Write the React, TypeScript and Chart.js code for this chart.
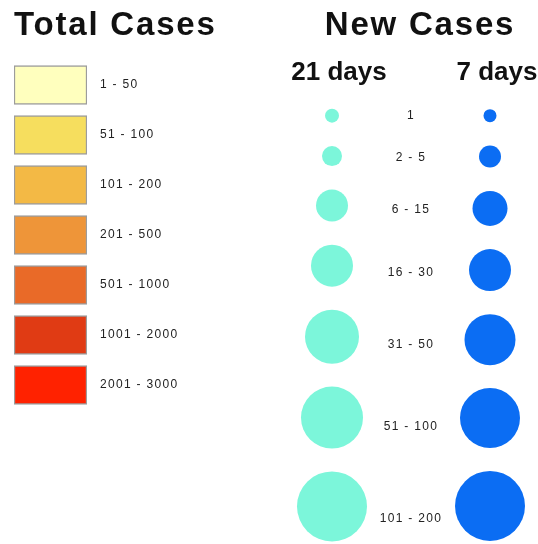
import React, { useEffect, useRef } from "react";
import { Chart, registerables } from "chart.js";

Chart.register(...registerables);

// ---- data ----
const totalTitle = "Total Cases";
const totalRanges = ["1 - 50", "51 - 100", "101 - 200", "201 - 500", "501 - 1000", "1001 - 2000", "2001 - 3000"];
const totalColors = ["#FFFFBE", "#F6DE5E", "#F3B945", "#EE9539", "#E96A28", "#E03B14", "#FF2200"];

const newTitle = "New Cases";
const periods = ["21 days", "7 days"];
const newRanges = ["1", "2 - 5", "6 - 15", "16 - 30", "31 - 50", "51 - 100", "101 - 200"];
const radii21 = [7, 10, 16, 21, 27, 31, 35];
const radii7 = [6.5, 11, 17.5, 21, 25.5, 30, 35];

// ---- styling / layout ----
const FAMILY = '"Liberation Sans", Arial, sans-serif';
const ROW_GAP = 24;
const CYAN = "#7CF6DA";
const BLUE = "#0B6DF3";
const LABEL_SPACING = "1.3px";

function stackRows(radii: number[], gap: number): number[] {
  const out: number[] = [0];
  for (let i = 1; i < radii.length; i++) {
    out.push(out[i - 1] + radii[i - 1] + radii[i] + gap);
  }
  return out;
}

function headingPlugin(text: string, align: CanvasTextAlign, x: number, tickSpacing: string) {
  return {
    id: "heading",
    beforeDraw(chart: any) {
      (chart.ctx as any).letterSpacing = tickSpacing;
    },
    afterDraw(chart: any) {
      const ctx = chart.ctx as any;
      ctx.letterSpacing = "0px";
      ctx.save();
      ctx.letterSpacing = "1.8px";
      ctx.font = `bold 33px ${FAMILY}`;
      ctx.fillStyle = "#111";
      ctx.textAlign = align;
      ctx.textBaseline = "alphabetic";
      ctx.fillText(text, x, 35);
      ctx.restore();
      ctx.letterSpacing = "0px";
    },
  };
}

export default function App() {
  const leftRef = useRef<HTMLCanvasElement>(null);
  const rightRef = useRef<HTMLCanvasElement>(null);

  useEffect(() => {
    const left = new Chart(leftRef.current!, {
      type: "bar",
      data: {
        labels: totalRanges,
        datasets: [
          {
            data: totalRanges.map(() => [0, 1]) as any,
            backgroundColor: totalColors,
            borderColor: "#9c9c9c",
            borderWidth: 1.5,
            borderSkipped: false,
            barThickness: 39,
          },
        ],
      },
      options: {
        indexAxis: "y",
        animation: false,
        responsive: false,
        maintainAspectRatio: false,
        events: [],
        layout: { autoPadding: false, padding: { top: 60, left: 14, right: 0, bottom: 134 } },
        plugins: { legend: { display: false }, tooltip: { enabled: false }, title: { display: false } },
        scales: {
          x: { display: false, min: 0, max: 1 },
          y: {
            position: "right",
            grid: { display: false },
            border: { display: false },
            ticks: { padding: 5, color: "#222", font: { family: FAMILY, size: 12 } },
            afterFit: (s: any) => {
              s.width = 193;
            },
          },
        },
      },
      plugins: [headingPlugin(totalTitle, "left", 14, LABEL_SPACING)],
    });

    const rows21 = stackRows(radii21, ROW_GAP);
    const rows7 = stackRows(radii7, ROW_GAP);
    const avgR = radii21.map((r, i) => (r + radii7[i]) / 2);
    const labelRows = rows21.map((y, i) => (y + rows7[i]) / 2 + (avgR[i] * avgR[i]) / 100);

    const labelPlugin = {
      id: "midLabels",
      afterDatasetsDraw(chart: any) {
        const ctx = chart.ctx as any;
        const xs = chart.scales.x;
        const ys = chart.scales.y;
        const cx = xs.getPixelForValue(1);
        ctx.save();
        ctx.letterSpacing = LABEL_SPACING;
        ctx.font = `12px ${FAMILY}`;
        ctx.fillStyle = "#222";
        ctx.textAlign = "center";
        ctx.textBaseline = "middle";
        newRanges.forEach((t, i) => {
          ctx.fillText(t, cx, ys.getPixelForValue(labelRows[i]));
        });
        ctx.restore();
        ctx.letterSpacing = "0px";
      },
    };

    const right = new Chart(rightRef.current!, {
      type: "bubble",
      data: {
        labels: [periods[0], "", periods[1]],
        datasets: [
          {
            data: radii21.map((r, i) => ({ x: periods[0], y: rows21[i], r })) as any,
            backgroundColor: CYAN,
            borderWidth: 0,
            clip: false as any,
          },
          {
            data: radii7.map((r, i) => ({ x: periods[1], y: rows7[i], r })) as any,
            backgroundColor: BLUE,
            borderWidth: 0,
            clip: false as any,
          },
        ],
      },
      options: {
        animation: false,
        responsive: false,
        maintainAspectRatio: false,
        events: [],
        layout: { autoPadding: false, padding: { top: 57.4, left: 12.5, right: 8.5, bottom: 0 } },
        plugins: { legend: { display: false }, tooltip: { enabled: false }, title: { display: false } },
        scales: {
          x: {
            type: "category",
            position: "top",
            offset: true,
            grid: { display: false },
            border: { display: false },
            ticks: {
              padding: 0,
              maxRotation: 0,
              autoSkip: false,
              labelOffset: 7,
              color: "#111",
              font: { family: FAMILY, size: 26, weight: "bold" },
            },
            afterFit: (s: any) => {
              s.paddingLeft = 0;
              s.paddingRight = 0;
            },
          },
          y: { type: "linear", display: false, reverse: true, min: -19.3, max: 434.1 },
        },
      },
      plugins: [headingPlugin(newTitle, "center", 140, "0px"), labelPlugin],
    });

    return () => {
      left.destroy();
      right.destroy();
    };
  }, []);

  return (
    <div style={{ position: "fixed", left: 0, top: 0, width: 538, height: 544, background: "#fff" }}>
      <canvas
        ref={leftRef}
        width={280}
        height={544}
        style={{ position: "absolute", left: 0, top: 0, width: 280, height: 544 }}
      />
      <canvas
        ref={rightRef}
        width={258}
        height={544}
        style={{ position: "absolute", left: 280, top: 0, width: 258, height: 544 }}
      />
    </div>
  );
}
